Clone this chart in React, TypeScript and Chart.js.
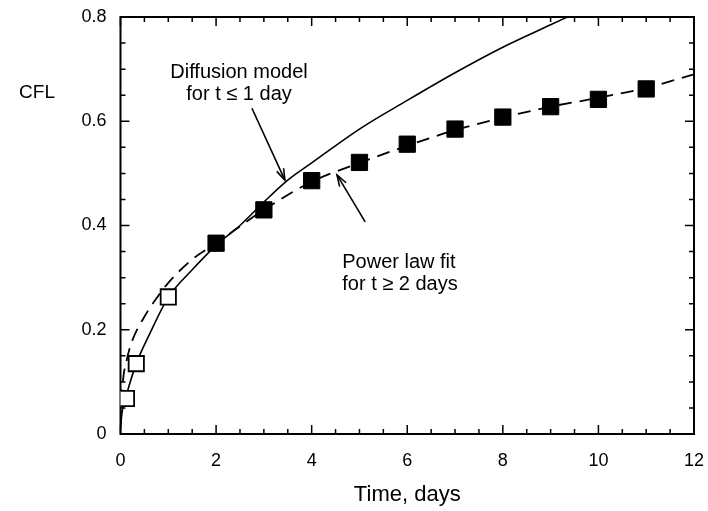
import React, { useEffect, useRef } from 'react';
import { Chart, registerables } from 'chart.js';

Chart.register(...registerables);

// ---- data ----
const xTickValues = [0, 2, 4, 6, 8, 10, 12];
const xTickLabels = ['0', '2', '4', '6', '8', '10', '12'];
const yTickValues = [0, 0.2, 0.4, 0.6, 0.8];
const yTickLabels = ['0', '0.2', '0.4', '0.6', '0.8'];

// Diffusion model curve (solid)
const diffusionTime = [0, 0.03, 0.125, 0.33, 0.6, 1, 1.5, 2, 2.5, 3, 3.5, 4, 5, 6, 7, 8, 9, 9.35];
const diffusionCFL = [0.01, 0.04, 0.075, 0.135, 0.19, 0.262, 0.315, 0.362, 0.4, 0.445, 0.487, 0.52, 0.585, 0.64, 0.693, 0.742, 0.785, 0.8];

// Power law fit curve (dashed)
const powerTime = [0, 0.05, 0.125, 0.25, 0.5, 0.75, 1, 1.5, 2, 3, 4, 5, 6, 7, 8, 9, 10, 11, 12];
const powerCFL = [0.02, 0.1, 0.14, 0.18, 0.225, 0.26, 0.29, 0.335, 0.366, 0.43, 0.484, 0.52, 0.553, 0.583, 0.607, 0.628, 0.645, 0.664, 0.69];

// Measured data, t <= 1 day (open squares)
const earlyTime = [0.125, 0.33, 1];
const earlyCFL = [0.068, 0.135, 0.263];

// Measured data, t >= 2 days (filled squares)
const lateTime = [2, 3, 4, 5, 6, 7, 8, 9, 10, 11];
const lateCFL = [0.366, 0.43, 0.486, 0.521, 0.556, 0.585, 0.608, 0.628, 0.642, 0.662];

const xAxisTitle = 'Time, days';
const yAxisTitle = 'CFL';
const noteDiffusion = ['Diffusion model', 'for t ≤ 1 day'];
const notePower = ['Power law fit', 'for t ≥ 2 days'];

const FONT = '"Liberation Sans", Arial, Helvetica, sans-serif';

const pts = (xs: number[], ys: number[]) => xs.map((x, i) => ({ x, y: ys[i] }));

const decorPlugin = {
  id: 'decor',
  beforeDatasetsDraw(chart: any) {
    const { ctx, chartArea: a, scales } = chart;
    const xs = scales.x;
    const ys = scales.y;
    ctx.save();
    ctx.strokeStyle = '#000';
    ctx.lineWidth = 2;
    ctx.strokeRect(a.left, a.top, a.right - a.left, a.bottom - a.top);
    ctx.lineWidth = 1.5;
    for (let i = 0; i <= 24; i++) {
      const v = i * 0.5;
      const px = xs.getPixelForValue(v);
      const len = i % 4 === 0 ? 9 : 5;
      ctx.beginPath();
      ctx.moveTo(px, a.bottom);
      ctx.lineTo(px, a.bottom - len);
      ctx.moveTo(px, a.top);
      ctx.lineTo(px, a.top + len);
      ctx.stroke();
    }
    for (let i = 0; i <= 16; i++) {
      const v = i * 0.05;
      const py = ys.getPixelForValue(v);
      const len = i % 4 === 0 ? 9 : 5;
      ctx.beginPath();
      ctx.moveTo(a.left, py);
      ctx.lineTo(a.left + len, py);
      ctx.moveTo(a.right, py);
      ctx.lineTo(a.right - len, py);
      ctx.stroke();
    }
    ctx.restore();
  },
  afterDraw(chart: any) {
    const { ctx, chartArea: a, scales } = chart;
    const xs = scales.x;
    const ys = scales.y;
    ctx.save();
    ctx.fillStyle = '#000';
    ctx.strokeStyle = '#000';
    ctx.textBaseline = 'middle';

    // axis titles
    ctx.font = `22px ${FONT}`;
    ctx.textAlign = 'center';
    ctx.fillText(xAxisTitle, (a.left + a.right) / 2, a.bottom + 61);
    ctx.font = `19px ${FONT}`;
    ctx.fillText(yAxisTitle, 37, ys.getPixelForValue(0.654));

    // notes
    ctx.font = `20px ${FONT}`;
    ctx.textAlign = 'center';
    const n1x = xs.getPixelForValue(2.48);
    const n1y = ys.getPixelForValue(0.6945);
    noteDiffusion.forEach((t, i) => ctx.fillText(t, n1x, n1y + i * 22));
    ctx.textAlign = 'left';
    const n2x = xs.getPixelForValue(4.64);
    const n2y = ys.getPixelForValue(0.33);
    notePower.forEach((t, i) => ctx.fillText(t, n2x, n2y + i * 22));

    // arrows
    const arrow = (fx: number, fy: number, tx: number, ty: number) => {
      const x1 = xs.getPixelForValue(fx), y1 = ys.getPixelForValue(fy);
      const x2 = xs.getPixelForValue(tx), y2 = ys.getPixelForValue(ty);
      const ang = Math.atan2(y2 - y1, x2 - x1);
      const hl = 12, spread = 0.32;
      ctx.lineWidth = 1.6;
      ctx.beginPath();
      ctx.moveTo(x1, y1);
      ctx.lineTo(x2, y2);
      ctx.stroke();
      ctx.beginPath();
      ctx.moveTo(x2 - hl * Math.cos(ang - spread), y2 - hl * Math.sin(ang - spread));
      ctx.lineTo(x2, y2);
      ctx.lineTo(x2 - hl * Math.cos(ang + spread), y2 - hl * Math.sin(ang + spread));
      ctx.stroke();
    };
    arrow(2.75, 0.625, 3.44, 0.487);
    arrow(5.12, 0.407, 4.53, 0.497);
    ctx.restore();
  },
};

export default function App() {
  const ref = useRef<HTMLCanvasElement | null>(null);
  useEffect(() => {
    if (!ref.current) return;
    const chart = new Chart(ref.current, {
      type: 'scatter',
      data: {
        datasets: [
          {
            label: 'Diffusion model',
            data: pts(diffusionTime, diffusionCFL),
            showLine: true,
            borderColor: '#000',
            borderWidth: 1.6,
            pointRadius: 0,
            cubicInterpolationMode: 'monotone',
            order: 3,
          },
          {
            label: 'Power law fit',
            data: pts(powerTime, powerCFL),
            showLine: true,
            borderColor: '#000',
            borderWidth: 1.8,
            borderDash: [13, 8],
            pointRadius: 0,
            cubicInterpolationMode: 'monotone',
            order: 2,
          },
          {
            label: 't <= 1 day',
            data: pts(earlyTime, earlyCFL),
            showLine: false,
            pointStyle: 'rect',
            pointRadius: 10.8,
            pointBackgroundColor: '#fff',
            pointBorderColor: '#000',
            pointBorderWidth: 1.8,
            order: 1,
          },
          {
            label: 't >= 2 days',
            data: pts(lateTime, lateCFL),
            showLine: false,
            pointStyle: 'rect',
            pointRadius: 11.5,
            pointBackgroundColor: '#000',
            pointBorderColor: '#000',
            pointBorderWidth: 1,
            order: 0,
          },
        ],
      } as any,
      options: {
        animation: false,
        responsive: false,
        events: [],
        layout: { padding: { top: 17, right: 14, left: 0, bottom: 0 } },
        plugins: { legend: { display: false }, tooltip: { enabled: false } },
        scales: {
          x: {
            type: 'linear',
            min: 0,
            max: 12,
            grid: { display: false, drawTicks: false },
            border: { display: false },
            afterBuildTicks: (s: any) => { s.ticks = xTickValues.map((v) => ({ value: v })); },
            afterFit: (s: any) => { s.height = 77; s.paddingLeft = 0; s.paddingRight = 0; },
            ticks: {
              padding: 16,
              color: '#000',
              font: { family: FONT, size: 18 },
              callback: (v: any) => xTickLabels[xTickValues.indexOf(Number(v))] ?? '',
            },
          },
          y: {
            type: 'linear',
            min: 0,
            max: 0.8,
            grid: { display: false, drawTicks: false },
            border: { display: false },
            afterBuildTicks: (s: any) => { s.ticks = yTickValues.map((v) => ({ value: v })); },
            afterFit: (s: any) => { s.width = 120.5; s.paddingTop = 0; s.paddingBottom = 0; },
            ticks: {
              padding: 14,
              color: '#000',
              font: { family: FONT, size: 18 },
              callback: (v: any) => {
                const i = yTickValues.findIndex((t) => Math.abs(t - Number(v)) < 1e-6);
                return i >= 0 ? yTickLabels[i] : '';
              },
            },
          },
        },
      } as any,
      plugins: [decorPlugin],
    });
    return () => chart.destroy();
  }, []);
  return (
    <div style={{ position: 'absolute', left: 0, top: 0, width: 708, height: 511, background: '#fff' }}>
      <canvas ref={ref} width={708} height={511} style={{ display: 'block' }} />
    </div>
  );
}
